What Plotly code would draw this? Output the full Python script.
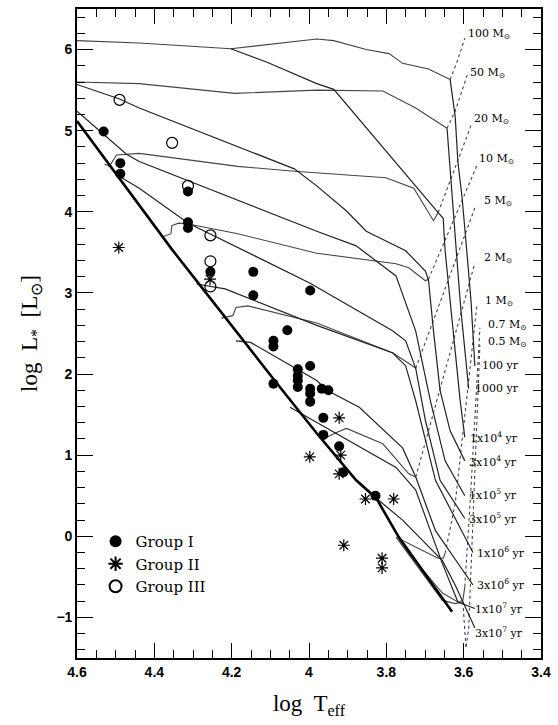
import plotly.graph_objects as go

# ---------------- data (log Teff, log L) ----------------
# Observed stars
g1_T = [4.531, 4.488, 4.488, 4.313, 4.313, 4.313, 4.255, 4.144, 4.144, 4.092, 4.092, 4.092,
        3.997, 4.056, 4.029, 4.029, 4.029, 4.029, 3.997, 3.997, 3.997, 3.997, 3.967, 3.950,
        3.963, 3.963, 3.922, 3.911, 3.828]
g1_L = [4.99, 4.60, 4.47, 4.25, 3.87, 3.80, 3.26, 3.26, 2.97, 2.41, 2.34, 1.88,
        3.03, 2.54, 2.06, 1.98, 1.92, 1.84, 2.10, 1.82, 1.76, 1.66, 1.82, 1.80,
        1.46, 1.25, 1.11, 0.79, 0.50]

g2_T = [4.492, 4.256, 3.922, 3.998, 3.918, 3.922, 3.854, 3.781, 3.910, 3.811, 3.811]
g2_L = [3.56, 3.17, 1.46, 0.98, 1.00, 0.77, 0.46, 0.46, -0.11, -0.27, -0.39]

g3_T = [4.490, 4.354, 4.313, 4.255, 4.255, 4.255]
g3_L = [5.38, 4.85, 4.32, 3.71, 3.39, 3.08]

# Zero-age main sequence
zams_T = [4.600, 4.355, 4.092, 3.980, 3.878, 3.826, 3.768, 3.630]
zams_L = [5.12, 3.54, 1.94, 1.27, 0.69, 0.47, -0.01, -0.93]

# Evolutionary tracks (solid part)
trk100_T = [4.600, 4.439, 4.202, 4.107, 3.980, 3.936, 3.852, 3.793, 3.758, 3.691, 3.635]
trk100_L = [6.11, 6.08, 6.01, 6.06, 6.13, 6.11, 6.00, 5.95, 5.83, 5.76, 5.63]
trk50_T = [4.600, 4.439, 4.192, 3.980, 3.809, 3.724, 3.643]
trk50_L = [5.60, 5.58, 5.46, 5.50, 5.49, 5.28, 5.03]
trk20_T = [4.529, 4.516, 4.498, 4.472, 4.439, 4.184, 4.038, 3.801, 3.729, 3.678, 3.666]
trk20_L = [4.59, 4.56, 4.70, 4.71, 4.72, 4.56, 4.50, 4.42, 4.29, 3.89, 3.99]
trk10_T = [4.375, 4.357, 4.355, 4.337, 4.312, 4.184, 3.980, 3.775, 3.742, 3.699, 3.691]
trk10_L = [3.70, 3.73, 3.83, 3.86, 3.85, 3.73, 3.49, 3.36, 3.31, 3.15, 3.17]
trk5_T = [4.227, 4.197, 4.189, 4.158, 3.980, 3.783, 3.732, 3.724]
trk5_L = [2.69, 2.72, 2.82, 2.84, 2.63, 2.26, 2.10, 2.07]
trk2_T = [3.954, 3.929, 3.903, 3.809, 3.742, 3.724]
trk2_L = [1.22, 1.28, 1.33, 1.14, 0.77, 0.73]
trk1_T = [3.771, 3.758, 3.717, 3.666, 3.653, 3.648]
trk1_L = [-0.01, -0.05, -0.15, -0.27, -0.27, -0.21]
trk07_T = [3.768, 3.742, 3.655, 3.615, 3.602, 3.597]
trk07_L = [-0.03, -0.21, -0.70, -0.81, -0.79, -0.62]
trk05_T = [3.775, 3.724, 3.655, 3.622, 3.602]
trk05_L = [-0.01, -0.34, -0.79, -0.83, -0.81]

# Early (dotted) parts of the tracks, running up to the labels
dot100_T = [3.635, 3.617, 3.597]; dot100_L = [5.63, 5.85, 6.14]
dot50_T = [3.643, 3.622, 3.589];  dot50_L = [5.03, 5.24, 5.71]
dot20_T = [3.666, 3.579];         dot20_L = [3.99, 5.09]
dot10_T = [3.691, 3.563];         dot10_L = [3.17, 4.60]
dot5_T = [3.724, 3.571];          dot5_L = [2.07, 4.05]
dot2_T = [3.724, 3.571];          dot2_L = [0.73, 3.37]
dot1_T = [3.648, 3.622, 3.566];   dot1_L = [-0.21, 0.40, 2.84]
dot07_T = [3.597, 3.581, 3.558];  dot07_L = [-0.62, 0.60, 2.57]
dot05_T = [3.602, 3.594, 3.587, 3.574, 3.558]; dot05_L = [-0.81, -1.38, -1.13, 0.40, 2.36]

# Isochrones
iso100_T = [3.635, 3.622, 3.615, 3.604, 3.592, 3.581, 3.571]
iso100_L = [5.63, 5.18, 4.62, 4.17, 3.52, 2.90, 2.10]
iso1e3_T = [3.643, 3.635, 3.627, 3.617, 3.607, 3.597, 3.587]
iso1e3_L = [5.03, 4.50, 3.95, 3.39, 2.78, 2.29, 1.82]
iso1e4_T = [4.202, 4.107, 3.980, 3.936, 3.666, 3.653, 3.648, 3.635, 3.622, 3.609, 3.597]
iso1e4_L = [6.01, 5.84, 5.58, 5.51, 3.99, 3.92, 3.52, 2.90, 2.29, 1.67, 1.22]
iso3e4_T = [4.600, 4.490, 4.439, 4.038, 3.980, 3.903, 3.852, 3.750, 3.699, 3.691, 3.678, 3.661, 3.635, 3.597]
iso3e4_L = [5.57, 5.39, 5.28, 4.53, 4.32, 4.01, 3.76, 3.52, 3.27, 3.16, 2.53, 1.80, 1.30, 0.93]
iso1e5_T = [4.600, 4.472, 4.439, 3.980, 3.878, 3.775, 3.724, 3.686, 3.648, 3.597]
iso1e5_L = [5.24, 4.71, 4.62, 3.76, 3.58, 3.21, 2.53, 1.67, 0.93, 0.50]
iso3e5_T = [4.495, 4.439, 4.312, 3.997, 3.783, 3.750, 3.724, 3.699, 3.661, 3.597]
iso3e5_L = [4.45, 4.29, 3.86, 3.12, 2.53, 2.41, 2.07, 1.43, 0.69, 0.22]
iso1e6_T = [4.291, 4.217, 3.980, 3.783, 3.750, 3.724, 3.673, 3.576]
iso1e6_L = [3.11, 3.05, 2.60, 2.26, 2.10, 1.67, 0.69, -0.20]
iso3e6_T = [4.189, 4.151, 3.980, 3.954, 3.870, 3.758, 3.724, 3.673, 3.576]
iso3e6_L = [2.41, 2.39, 1.92, 1.80, 1.59, 1.09, 0.73, 0.07, -0.60]
iso1e7_T = [4.049, 3.775, 3.724, 3.658, 3.615, 3.571]
iso1e7_L = [1.59, 0.85, 0.57, -0.30, -0.81, -0.89]
iso3e7_T = [3.826, 3.758, 3.655, 3.622, 3.571]
iso3e7_L = [0.47, 0.20, -0.30, -0.60, -1.13]

# Labels
mass_labels = ["100 M<sub>⊙</sub>", "50 M<sub>⊙</sub>", "20 M<sub>⊙</sub>", "10 M<sub>⊙</sub>",
               "5 M<sub>⊙</sub>", "2 M<sub>⊙</sub>", "1 M<sub>⊙</sub>", "0.7 M<sub>⊙</sub>",
               "0.5 M<sub>⊙</sub>"]
mass_label_T = [3.594, 3.589, 3.579, 3.566, 3.553, 3.553, 3.551, 3.543, 3.543]
mass_label_L = [6.19, 5.71, 5.15, 4.65, 4.13, 3.43, 2.90, 2.61, 2.39]
age_labels = ["100 yr", "1000 yr", "1x10<sup>4</sup> yr", "3x10<sup>4</sup> yr",
              "1x10<sup>5</sup> yr", "3x10<sup>5</sup> yr", "1x10<sup>6</sup> yr",
              "3x10<sup>6</sup> yr", "1x10<sup>7</sup> yr", "3x10<sup>7</sup> yr"]
age_label_T = [3.558, 3.576, 3.589, 3.592, 3.592, 3.592, 3.571, 3.571, 3.576, 3.576]
age_label_L = [2.10, 1.82, 1.22, 0.92, 0.52, 0.22, -0.20, -0.60, -0.89, -1.19]

# ---------------- figure ----------------
fig = go.Figure()

def add_line(T, L, color="#3a3a3a", width=1.1, dash="solid"):
    fig.add_trace(go.Scatter(x=T, y=L, mode="lines", showlegend=False, hoverinfo="skip",
                             line=dict(color=color, width=width, dash=dash)))

for T, L in [(trk100_T, trk100_L), (trk50_T, trk50_L), (trk20_T, trk20_L), (trk10_T, trk10_L),
             (trk5_T, trk5_L), (trk2_T, trk2_L), (trk1_T, trk1_L), (trk07_T, trk07_L),
             (trk05_T, trk05_L)]:
    add_line(T, L, color="#444444", width=1.1)

for T, L in [(dot100_T, dot100_L), (dot50_T, dot50_L), (dot20_T, dot20_L), (dot10_T, dot10_L),
             (dot5_T, dot5_L), (dot2_T, dot2_L), (dot1_T, dot1_L), (dot07_T, dot07_L),
             (dot05_T, dot05_L)]:
    add_line(T, L, color="#444444", width=1.1, dash="dot")

for T, L in [(iso100_T, iso100_L), (iso1e3_T, iso1e3_L), (iso1e4_T, iso1e4_L),
             (iso3e4_T, iso3e4_L), (iso1e5_T, iso1e5_L), (iso3e5_T, iso3e5_L),
             (iso1e6_T, iso1e6_L), (iso3e6_T, iso3e6_L), (iso1e7_T, iso1e7_L),
             (iso3e7_T, iso3e7_L)]:
    add_line(T, L, color="#222222", width=1.2)

add_line(zams_T, zams_L, color="#000000", width=2.6)

fig.add_trace(go.Scatter(x=g1_T, y=g1_L, mode="markers", name="Group I",
                         marker=dict(symbol="circle", size=10, color="black")))
fig.add_trace(go.Scatter(x=g2_T, y=g2_L, mode="markers", name="Group II",
                         marker=dict(symbol="asterisk-open", size=10, color="black",
                                     line=dict(color="black", width=1.2))))
fig.add_trace(go.Scatter(x=g3_T, y=g3_L, mode="markers", name="Group III",
                         marker=dict(symbol="circle-open", size=11, color="black",
                                     line=dict(color="black", width=1.2))))

for txt, T, L in zip(mass_labels, mass_label_T, mass_label_L):
    fig.add_annotation(x=T, y=L, text=txt, showarrow=False, xanchor="left", yanchor="middle",
                       font=dict(family="DejaVu Serif", size=11, color="black"))
for txt, T, L in zip(age_labels, age_label_T, age_label_L):
    fig.add_annotation(x=T, y=L, text=txt, showarrow=False, xanchor="left", yanchor="middle",
                       font=dict(family="DejaVu Serif", size=11, color="black"))

axis_common = dict(showgrid=False, zeroline=False, showline=True, linecolor="black",
                   linewidth=1.6, mirror="allticks", ticks="inside", tickcolor="black",
                   tickwidth=1.3, tickfont=dict(family="Liberation Sans", size=14,
                                                color="black", weight="bold"))

fig.update_xaxes(range=[4.6, 3.4], tickmode="array", tickvals=[4.6, 4.4, 4.2, 4.0, 3.8, 3.6, 3.4],
                 ticktext=["4.6", "4.4", "4.2", "4", "3.8", "3.6", "3.4"], ticklen=15,
                 minor=dict(dtick=0.05, tick0=4.6, ticks="inside", ticklen=8,
                            tickcolor="black", tickwidth=1.2, showgrid=False),
                 title=dict(text="log  T<sub>eff</sub>", standoff=16,
                            font=dict(family="Liberation Serif", size=23, color="black")),
                 **axis_common)
fig.update_yaxes(range=[-1.5, 6.5], tickmode="array", tickvals=[-1, 0, 1, 2, 3, 4, 5, 6],
                 ticktext=["−1", "0", "1", "2", "3", "4", "5", "6"], ticklen=16,
                 minor=dict(dtick=0.2, tick0=0, ticks="inside", ticklen=8,
                            tickcolor="black", tickwidth=1.2, showgrid=False),
                 title=dict(text="log  L<sub>*</sub>  [L<sub>⊙</sub>]", standoff=12,
                            font=dict(family="Liberation Serif", size=23, color="black")),
                 **axis_common)

fig.update_layout(
    width=558, height=725,
    margin=dict(l=77, r=11, t=7, b=67),
    paper_bgcolor="white", plot_bgcolor="white",
    legend=dict(x=0.04, y=0.205, xanchor="left", yanchor="top", bgcolor="rgba(0,0,0,0)",
                font=dict(family="DejaVu Serif", size=15, color="black"),
                itemsizing="constant", tracegroupgap=2),
)

fig.write_html("out.html")
